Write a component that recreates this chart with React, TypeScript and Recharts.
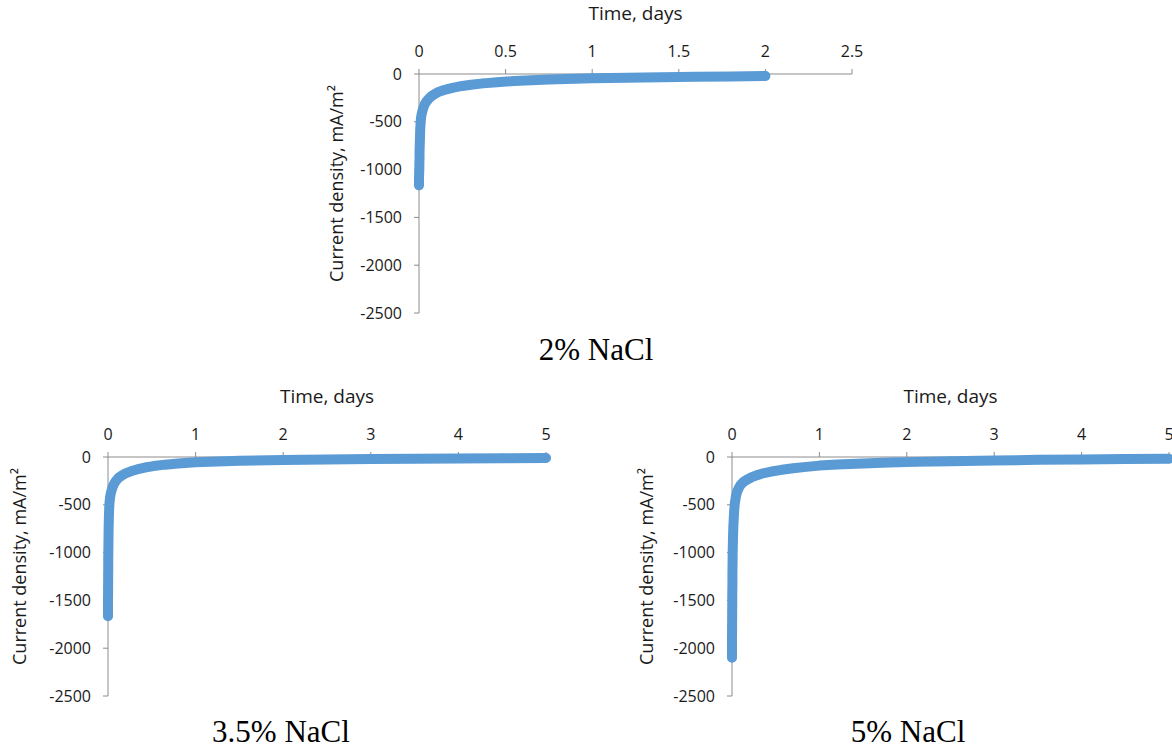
import { ScatterChart, Scatter, XAxis, YAxis, ZAxis, Label } from "recharts";

const BLUE = "#5b9bd5";
const AXIS = "#8c8c8c";
const INK = "#1a1a1a";
const SANS = "'Open Sans', sans-serif";

// 2% NaCl
const t2 = [0, 0, 0.001, 0.002, 0.002, 0.003, 0.003, 0.004, 0.005, 0.006, 0.007, 0.009, 0.011, 0.014, 0.018, 0.024, 0.032, 0.042, 0.055, 0.07, 0.09, 0.11, 0.14, 0.17, 0.2, 0.25, 0.3, 0.37, 0.45, 0.55, 0.65, 0.75, 0.9, 1.0, 1.2, 1.4, 1.6, 1.8, 2.0];
const v2 = [-1165, -1090, -1040, -990, -940, -880, -820, -760, -700, -640, -580, -520, -470, -430, -400, -360, -320, -290, -262, -235, -210, -190, -170, -155, -142, -125, -112, -98, -86, -74, -65, -58, -50, -45, -38, -33, -29, -25, -21];

// 3.5% NaCl
const t35 = [0, 0, 0, 0.001, 0.001, 0.002, 0.002, 0.003, 0.003, 0.004, 0.005, 0.006, 0.007, 0.009, 0.011, 0.014, 0.018, 0.024, 0.032, 0.042, 0.055, 0.07, 0.09, 0.12, 0.16, 0.2, 0.26, 0.33, 0.42, 0.52, 0.65, 0.8, 1.0, 1.25, 1.5, 2.0, 2.5, 3.0, 3.5, 4.0, 4.5, 5.0];
const v35 = [-1665, -1560, -1490, -1430, -1370, -1300, -1230, -1150, -1070, -990, -910, -830, -750, -670, -600, -530, -470, -420, -380, -345, -310, -280, -250, -218, -192, -172, -150, -130, -110, -95, -80, -67, -55, -46, -40, -32, -26, -22, -18, -15, -13, -11];

// 5% NaCl
const t5 = [0, 0, 0, 0.001, 0.001, 0.002, 0.002, 0.003, 0.003, 0.004, 0.005, 0.005, 0.006, 0.007, 0.008, 0.01, 0.012, 0.015, 0.019, 0.025, 0.033, 0.045, 0.06, 0.08, 0.1, 0.13, 0.17, 0.22, 0.28, 0.35, 0.45, 0.57, 0.7, 0.85, 1.0, 1.2, 1.5, 1.8, 2.1, 2.5, 3.0, 3.5, 4.0, 4.5, 5.0];
const v5 = [-2100, -1980, -1890, -1820, -1760, -1690, -1620, -1540, -1460, -1380, -1300, -1220, -1140, -1060, -980, -900, -820, -740, -660, -560, -480, -410, -360, -320, -290, -262, -238, -214, -192, -172, -152, -134, -118, -103, -90, -79, -67, -58, -51, -44, -36, -30, -25, -21, -18];

const yTicks = [0, -500, -1000, -1500, -2000, -2500];
const xTicksShort = [0, 0.5, 1, 1.5, 2, 2.5];
const xTicksLong = [0, 1, 2, 3, 4, 5];

const zip = (t: number[], v: number[]) => t.map((x, i) => ({ t: x, v: v[i] }));

const yTitle = (dist: number) => (props: any) => {
  const vb = props.viewBox;
  const x = vb.x + vb.width - dist;
  const y = vb.y + vb.height / 2 - 10;
  return (
    <text
      x={x}
      y={y}
      transform={`rotate(-90 ${x} ${y})`}
      textAnchor="middle"
      dominantBaseline="central"
      fontFamily={SANS}
      fontSize={18}
      fill={INK}
    >
      Current density, mA/m²
    </text>
  );
};

type PanelProps = {
  left: number;
  top: number;
  plotW: number;
  data: { t: number; v: number }[];
  xMax: number;
  xTicks: number[];
  titleDist: number;
};

function Panel({ left, top, plotW, data, xMax, xTicks, titleDist }: PanelProps) {
  const axisW = 100;
  const axisH = 74;
  const plotH = 239;
  return (
    <div style={{ position: "absolute", left, top }}>
      <ScatterChart
        width={axisW + plotW + 20}
        height={axisH + plotH + 16}
        margin={{ top: 0, right: 20, bottom: 16, left: 0 }}
      >
        <XAxis
          type="number"
          dataKey="t"
          orientation="top"
          domain={[0, xMax]}
          ticks={xTicks}
          interval={0}
          height={axisH}
          stroke={AXIS}
          tickSize={5}
          tickMargin={12}
          tick={{ fill: INK, fontSize: 16, fontFamily: SANS }}
        >
          <Label
            value="Time, days"
            position="insideTop"
            offset={7}
            style={{ fill: INK, fontSize: 19, fontFamily: SANS }}
          />
        </XAxis>
        <YAxis
          type="number"
          dataKey="v"
          domain={[-2500, 0]}
          ticks={yTicks}
          interval={0}
          width={axisW}
          stroke={AXIS}
          tickSize={5}
          tickMargin={12}
          tick={{ fill: INK, fontSize: 16, fontFamily: SANS }}
        >
          <Label content={yTitle(titleDist)} />
        </YAxis>
        <ZAxis range={[80, 80]} />
        <Scatter
          data={data}
          fill={BLUE}
          shape="circle"
          line={{ stroke: BLUE, strokeWidth: 10, strokeLinejoin: "round", strokeLinecap: "round" }}
          isAnimationActive={false}
        />
      </ScatterChart>
    </div>
  );
}

const captionStyle = (cx: number, top: number): React.CSSProperties => ({
  position: "absolute",
  left: cx - 150,
  top,
  width: 300,
  textAlign: "center",
  fontFamily: "'Liberation Serif', 'Times New Roman', serif",
  fontSize: 31,
  lineHeight: "31px",
  color: "#000",
});

export default function App() {
  return (
    <div
      style={{
        position: "absolute",
        left: 0,
        top: 0,
        width: 1172,
        height: 749,
        overflow: "hidden",
        background: "#fff",
      }}
    >
      <Panel left={319} top={0} plotW={433} data={zip(t2, v2)} xMax={2.5} xTicks={xTicksShort} titleDist={83} />
      <Panel left={8} top={383} plotW={438} data={zip(t35, v35)} xMax={5} xTicks={xTicksLong} titleDist={89} />
      <Panel left={632} top={383} plotW={437} data={zip(t5, v5)} xMax={5} xTicks={xTicksLong} titleDist={86} />
      <div style={captionStyle(596, 334)}>2% NaCl</div>
      <div style={captionStyle(281, 716)}>3.5% NaCl</div>
      <div style={captionStyle(908, 716)}>5% NaCl</div>
    </div>
  );
}
